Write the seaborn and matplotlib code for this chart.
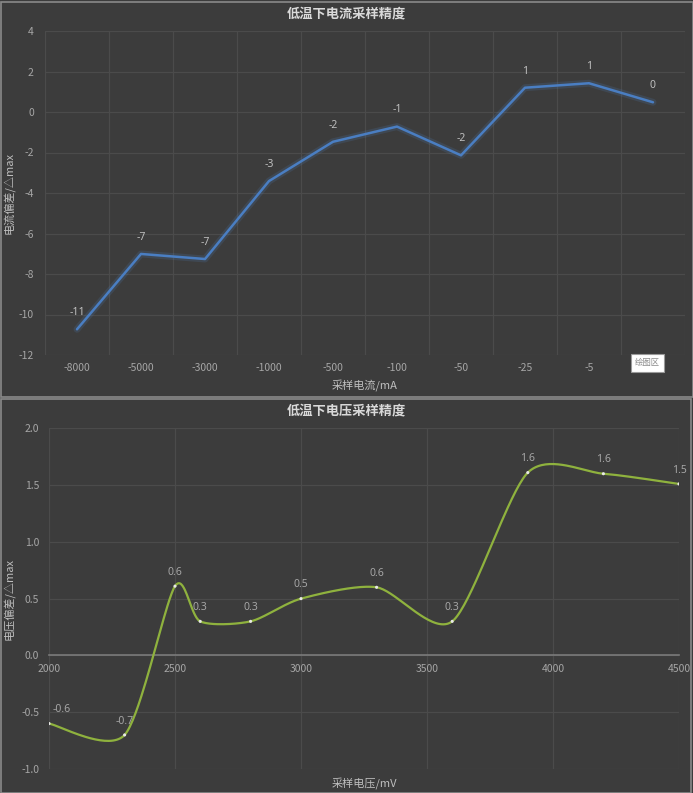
import numpy as np
import pandas as pd
import matplotlib
matplotlib.use("Agg")
import matplotlib.pyplot as plt
import matplotlib.patches as mpatches
import seaborn as sns

# ---------------- data ----------------
current_categories = ["-8000", "-5000", "-3000", "-1000", "-500", "-100", "-50", "-25", "-5", ""]
current_values = [-10.73, -7.01, -7.26, -3.41, -1.47, -0.72, -2.14, 1.20, 1.42, 0.48]
current_labels = ["-11", "-7", "-7", "-3", "-2", "-1", "-2", "1", "1", "0"]
current_yticks = [4, 2, 0, -2, -4, -6, -8, -10, -12]

voltage_x = [2000, 2300, 2500, 2600, 2800, 3000, 3300, 3600, 3900, 4200, 4500]
voltage_values = [-0.60, -0.70, 0.61, 0.30, 0.30, 0.50, 0.60, 0.30, 1.61, 1.60, 1.51]
voltage_labels = ["-0.6", "-0.7", "0.6", "0.3", "0.3", "0.5", "0.6", "0.3", "1.6", "1.6", "1.5"]
voltage_xticks = [2000, 2500, 3000, 3500, 4000, 4500]
voltage_yticks = [-1.0, -0.5, 0.0, 0.5, 1.0, 1.5, 2.0]

# ---------------- style ----------------
BG = "#3c3c3c"
GRID = "#4b4b4b"
TICK = "#a6a6a6"
TITLE = "#d9d9d9"
LAB = "#bfbfbf"

sns.set_theme(style="dark")
plt.rcParams["font.family"] = ["Noto Sans CJK SC", "DejaVu Sans"]
plt.rcParams["axes.unicode_minus"] = False

W, H = 693, 793
fig = plt.figure(figsize=(W / 100, H / 100), dpi=100)
fig.patch.set_facecolor(BG)


def fx(px):
    return px / W


def fy(py):
    return 1 - py / H


# panel borders
fig.add_artist(mpatches.Rectangle((fx(0.5), fy(397)), fx(692), 395 / H, transform=fig.transFigure,
                                  facecolor="none", edgecolor="#8a8a8a", lw=1.2))
fig.add_artist(mpatches.Rectangle((fx(1), fy(792.5)), fx(690), 394 / H, transform=fig.transFigure,
                                  facecolor="none", edgecolor="#8a8a8a", lw=1.2))


def style_axes(ax):
    ax.set_facecolor(BG)
    for s in ax.spines.values():
        s.set_visible(False)
    ax.grid(True, color=GRID, lw=0.9)
    ax.tick_params(axis="both", colors=TICK, labelsize=7.5, length=0)
    for lab in ax.get_xticklabels() + ax.get_yticklabels():
        lab.set_color(TICK)


# ---------------- top chart: current ----------------
ax1 = fig.add_axes([fx(45), fy(355), 640 / W, 324 / H])
pos = np.arange(len(current_values))
df1 = pd.DataFrame({"pos": pos, "val": current_values})
# glow
sns.lineplot(data=df1, x="pos", y="val", ax=ax1, color="#4f81bd", lw=5, alpha=0.18, sort=False)
sns.lineplot(data=df1, x="pos", y="val", ax=ax1, color="#4a7ec2", lw=1.8, sort=False)
ax1.set_xlim(-0.5, len(current_values) - 0.5)
ax1.set_ylim(-12, 4)
ax1.set_yticks(current_yticks)
ax1.set_xticks(np.arange(-0.5, len(current_values), 1.0), minor=False)
ax1.set_xticklabels([""] * (len(current_values) + 1))
ax1.set_xticks(pos, minor=True)
ax1.set_xticklabels(current_categories, minor=True)
ax1.tick_params(axis="x", which="minor", length=0, pad=6, labelsize=7.5, colors=TICK)
style_axes(ax1)
ax1.tick_params(axis="y", pad=8)
ax1.xaxis.grid(True, which="major", color=GRID, lw=0.9)
ax1.xaxis.grid(False, which="minor")
for p, v, t in zip(pos, current_values, current_labels):
    ax1.annotate(t, (p, v), xytext=(0, 8), textcoords="offset points", ha="center", va="bottom",
                 color=LAB, fontsize=7.5, family=["Noto Sans", "DejaVu Sans"])
ax1.set_xlabel("采样电流/mA", color=LAB, fontsize=8)
ax1.xaxis.set_label_coords(0.5, -25 / 324)
ax1.set_ylabel("电流偏差/△max", color=LAB, fontsize=8)
ax1.yaxis.set_label_coords(-30 / 640, 0.5)
fig.text(fx(346), fy(13), "低温下电流采样精度", ha="center", va="center", color=TITLE,
         fontsize=9.5, fontweight="bold")
# "绘图区" tooltip box
fig.text(fx(647.5), fy(363), "绘图区", ha="center", va="center", color="#8a8a8a", fontsize=6,
         bbox=dict(boxstyle="square,pad=0.5", facecolor="white", edgecolor="#9a9a9a", lw=0.8))

# ---------------- bottom chart: voltage ----------------
ax2 = fig.add_axes([fx(49), fy(769), 630 / W, 340.7 / H])
x0, x1 = 2000, 4500
y0, y1 = -1.0, 2.0
pxw, pxh = 630.0, 340.7

# Excel-style smoothing (cardinal Bezier in screen space)
k = 0.13
xs = (np.array(voltage_x, float) - x0) / (x1 - x0) * pxw
ys = (np.array(voltage_values, float) - y0) / (y1 - y0) * pxh
P = np.column_stack([xs, ys])
n = len(P)
curve = []
tt = np.linspace(0, 1, 40)
for i in range(n - 1):
    pm = P[i - 1] if i > 0 else P[i]
    p0, p1 = P[i], P[i + 1]
    p2 = P[i + 2] if i + 2 < n else P[i + 1]
    c1 = p0 + (p1 - pm) * k
    c2 = p1 - (p2 - p0) * k
    seg = ((1 - tt) ** 3)[:, None] * p0 + (3 * (1 - tt) ** 2 * tt)[:, None] * c1 \
        + (3 * (1 - tt) * tt ** 2)[:, None] * c2 + (tt ** 3)[:, None] * p1
    curve.append(seg if i == 0 else seg[1:])
curve = np.vstack(curve)
cx = curve[:, 0] / pxw * (x1 - x0) + x0
cy = curve[:, 1] / pxh * (y1 - y0) + y0
ax2.plot(cx, cy, color="#8fb23e", lw=1.6, zorder=3)
df2 = pd.DataFrame({"x": voltage_x, "y": voltage_values})
sns.scatterplot(data=df2, x="x", y="y", ax=ax2, color="#e8e8e8", s=5, edgecolor="none", zorder=4)
ax2.set_xlim(x0, x1)
ax2.set_ylim(y0, y1)
ax2.set_xticks(voltage_xticks)
ax2.set_yticks(voltage_yticks)
ax2.set_yticklabels([f"{v:.1f}" for v in voltage_yticks])
style_axes(ax2)
ax2.spines["bottom"].set_visible(True)
ax2.spines["bottom"].set_position(("data", 0))
ax2.spines["bottom"].set_color("#7a7a7a")
ax2.spines["bottom"].set_linewidth(1.2)
ax2.tick_params(axis="x", pad=6)
ax2.tick_params(axis="y", pad=7)
for i, (x, y, t) in enumerate(zip(voltage_x, voltage_values, voltage_labels)):
    dx = 0
    if i == 0:
        dx = 9
    ax2.annotate(t, (x, y), xytext=(dx, 6), textcoords="offset points", ha="center", va="bottom",
                 color=TICK, fontsize=7.5, family=["Noto Sans", "DejaVu Sans"])
ax2.set_xlabel("采样电压/mV", color=LAB, fontsize=8)
ax2.xaxis.set_label_coords(0.5, -9 / 340.7)
ax2.set_ylabel("电压偏差/△max", color=LAB, fontsize=8)
ax2.yaxis.set_label_coords(-34 / 630, 0.5)
fig.text(fx(346), fy(410), "低温下电压采样精度", ha="center", va="center", color=TITLE,
         fontsize=9.5, fontweight="bold")

fig.savefig("out.png", dpi=100, facecolor=BG)
